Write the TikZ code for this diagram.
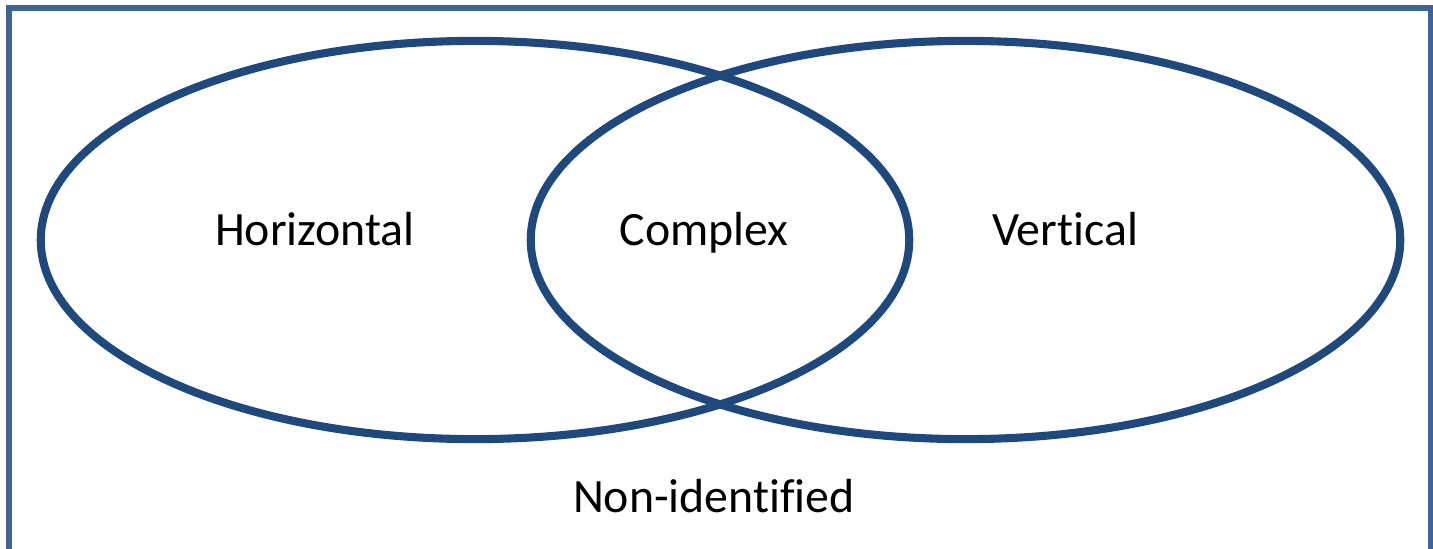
\documentclass[tikz,border=0pt]{standalone}
\usepackage{fontspec}
\setmainfont[Ligatures=NoCommon]{Carlito}
\definecolor{vennblue}{HTML}{1F497D}
\definecolor{framesteel}{HTML}{3C6496}
\tikzset{
  venn/.style={vennblue, line width=2.3pt},
  setlabel/.style={anchor=base, inner sep=0pt, font=\fontsize{13.6}{16}\selectfont}
}

\begin{document}
\begin{tikzpicture}[x=0.01cm, y=-0.01cm]
\useasboundingbox (0,0) rectangle (1433,548);
% universe frame, open at the bottom
\draw[framesteel, line width=1.45pt] (9,8) rectangle (1431,620);
% the two sets
\draw[venn] (475,240) ellipse [x radius=4.34cm, y radius=1.99cm];
\draw[venn] (965.5,240) ellipse [x radius=4.345cm, y radius=1.99cm];
\node[setlabel] (horiz) at (315,245) {Horizontal};
\node[setlabel] (cplx) at (704,245) {Complex};
\node[setlabel] (vert) at (1065,245) {Vertical};
\node[setlabel] (nonid) at (714,512) {Non-identified};
\end{tikzpicture}
\end{document}
